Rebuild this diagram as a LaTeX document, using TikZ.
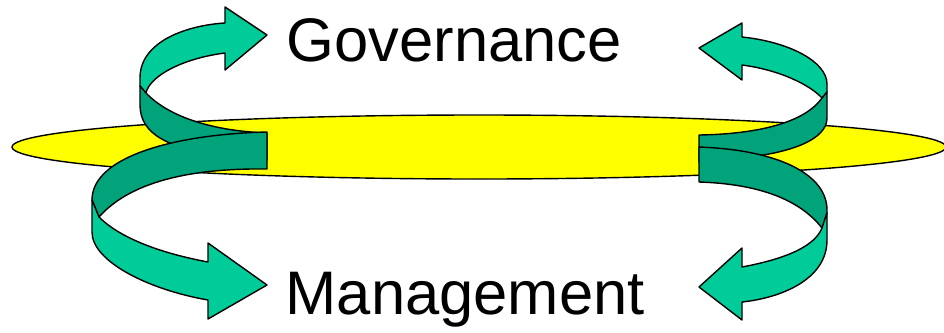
\documentclass[tikz,border=0pt]{standalone}
\usepackage{fontspec}
\setmainfont{Liberation Sans}
\definecolor{ribbonlight}{RGB}{0,204,153}
\definecolor{ribbondark}{RGB}{0,163,122}
\definecolor{discyellow}{RGB}{255,255,0}
\tikzset{
  lightface/.style={fill=ribbonlight, draw=black, line width=1.4bp, line join=round},
  darkface/.style={fill=ribbondark, draw=black, line width=1.4bp, line join=round},
  disc/.style={fill=discyellow, draw=black, line width=1.4bp},
  bigword/.style={inner sep=0pt, anchor=base west, font=\fontsize{61.5bp}{72bp}\selectfont}
}
\begin{document}
\begin{tikzpicture}[x=1bp, y=-1bp]
\useasboundingbox (0,0) rectangle (944,332);
% disc
\path[disc] (479,147) ellipse [x radius=467bp, y radius=32bp];
% upper left ribbon (to Governance)
\path[lightface] (140,86) -- (140,78) .. controls (140,40) and (190,25) .. (225,23) -- (225,7) -- (267,35) -- (225,70) -- (225,53) .. controls (185,58) and (150,75) .. (146,93) -- cycle;
\path[darkface] (146,93) .. controls (170,118) and (215,131) .. (267,133) -- (267,160) -- (220,156) .. controls (170,148) and (140,135) .. (140,105) -- (140,86) -- cycle;
% lower left ribbon (to Management)
\path[darkface] (267,132) -- (267,169) .. controls (190,168) and (130,182) .. (99,217) -- (92,200) .. controls (92,155) and (180,134) .. (267,132) -- cycle;
\path[lightface] (92,200) -- (92,232) .. controls (92,262) and (150,290) .. (208,300) -- (208,319) -- (267,285) -- (208,243) -- (208,262) .. controls (160,253) and (120,238) .. (99,217) -- cycle;
% upper right ribbon
\path[lightface] (827,92) -- (827,84) .. controls (827,62) and (790,42) .. (742,37) -- (742,23) -- (699,48) -- (742,80) -- (742,65) .. controls (780,70) and (810,85) .. (822,98) -- cycle;
\path[darkface] (822,98) .. controls (805,122) and (760,134) .. (699,135) -- (699,162) -- (750,157) .. controls (790,152) and (827,140) .. (827,118) -- (827,92) -- cycle;
% lower right ribbon
\path[darkface] (699,147) .. controls (780,150) and (827,175) .. (827,210) -- (827,213) -- (822,228) .. controls (800,200) and (760,184) .. (699,182) -- cycle;
\path[lightface] (827,213) -- (827,240) .. controls (827,280) and (780,298) .. (742,302) -- (742,320) -- (699,287) -- (742,248) -- (742,267) .. controls (790,258) and (815,245) .. (822,228) -- cycle;
% words
\node[bigword] (gov) at (286.5,61) {Governance};
\node[bigword] (mgmt) at (285.5,314) {Management};
\end{tikzpicture}
\end{document}
